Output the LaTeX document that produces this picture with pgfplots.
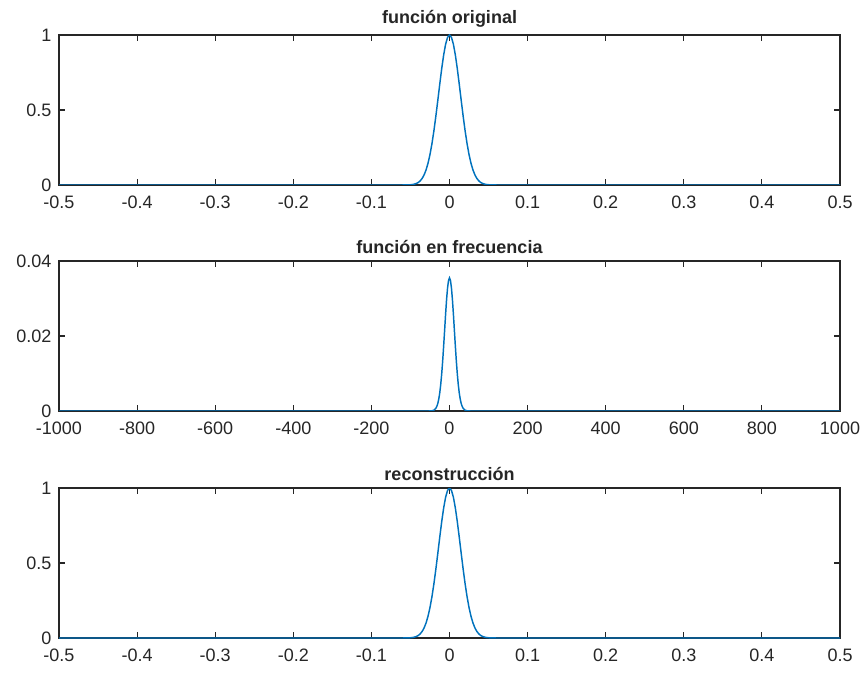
\documentclass[border=0pt]{standalone}
\usepackage{pgfplots}
\pgfplotsset{compat=1.18}
\usepackage{fontspec}
\setmainfont{Liberation Sans}
\definecolor{mblue}{RGB}{0,114,189}
\definecolor{axgray}{RGB}{38,38,38}
\pgfplotstableread{
x y
-0.5 0
-0.065 0
-0.06 0.0001
-0.055 0.00045
-0.05 0.0017
-0.0475 0.00316
-0.045 0.00571
-0.0425 0.00997
-0.04 0.0169
-0.0375 0.0277
-0.035 0.0439
-0.0325 0.0676
-0.03 0.1007
-0.0275 0.1453
-0.025 0.2030
-0.0225 0.2749
-0.02 0.3604
-0.0175 0.4579
-0.015 0.5633
-0.0125 0.6713
-0.01 0.7748
-0.0075 0.8663
-0.005 0.9382
-0.0025 0.9842
0 1
0.0025 0.9842
0.005 0.9382
0.0075 0.8663
0.01 0.7748
0.0125 0.6713
0.015 0.5633
0.0175 0.4579
0.02 0.3604
0.0225 0.2749
0.025 0.2030
0.0275 0.1453
0.03 0.1007
0.0325 0.0676
0.035 0.0439
0.0375 0.0277
0.04 0.0169
0.0425 0.00997
0.045 0.00571
0.0475 0.00316
0.05 0.0017
0.055 0.00045
0.06 0.0001
0.065 0
0.5 0
}\orig
\pgfplotstableread{
x y
-1000 0
-55 0
-50 0.00001
-45 0.000054
-40 0.00021
-35 0.00070
-32.5 0.00121
-30 0.00199
-27.5 0.00316
-25 0.00480
-22.5 0.00703
-20 0.00987
-17.5 0.0133
-15 0.0173
-12.5 0.0215
-10 0.0258
-7.5 0.0297
-5 0.0328
-2.5 0.0348
0 0.0355
2.5 0.0348
5 0.0328
7.5 0.0297
10 0.0258
12.5 0.0215
15 0.0173
17.5 0.0133
20 0.00987
22.5 0.00703
25 0.00480
27.5 0.00316
30 0.00199
32.5 0.00121
35 0.00070
40 0.00021
45 0.000054
50 0.00001
55 0
1000 0
}\freq
\pgfplotsset{
  mystyle/.style={
    scale only axis,
    width=585.75pt, height=112.5pt,
    anchor=south west,
    axis line style={axgray, line width=0.8pt},
    every tick/.style={axgray, line width=0.8pt},
    tick align=inside,
    major tick length=4.5pt,
    tick label style={font=\fontsize{13.5}{16}\selectfont, text=axgray, inner sep=0.5pt},
    title style={font=\bfseries\fontsize{13.5}{16}\selectfont, text=axgray, yshift=-4pt},
    xticklabel style={yshift=-7.5pt},
    yticklabel style={xshift=-5pt},
    scaled y ticks=false,
    scaled x ticks=false,
    ymin=0,
  }
}
\begin{document}
\begin{tikzpicture}
\useasboundingbox (0,0) rectangle (650.25pt,-504.75pt);
\begin{axis}[mystyle, at={(44.25pt,-138.75pt)},
  title={función original},
  xmin=-0.5, xmax=0.5, ymax=1,
  xtick={-0.5,-0.4,-0.3,-0.2,-0.1,0,0.1,0.2,0.3,0.4,0.5},
  xticklabels={-0.5,-0.4,-0.3,-0.2,-0.1,0,0.1,0.2,0.3,0.4,0.5},
  ytick={0,0.5,1}, yticklabels={0,0.5,1}]
\addplot[mblue, line width=1.1pt] table[x=x,y=y] {\orig};
\end{axis}
\begin{axis}[mystyle, at={(44.25pt,-308.25pt)},
  title={función en frecuencia},
  xmin=-1000, xmax=1000, ymax=0.04,
  xtick={-1000,-800,-600,-400,-200,0,200,400,600,800,1000},
  xticklabels={-1000,-800,-600,-400,-200,0,200,400,600,800,1000},
  ytick={0,0.02,0.04}, yticklabels={0,0.02,0.04}]
\addplot[mblue, line width=1.1pt] table[x=x,y=y] {\freq};
\end{axis}
\begin{axis}[mystyle, at={(44.25pt,-478.5pt)},
  title={reconstrucción},
  xmin=-0.5, xmax=0.5, ymax=1,
  xtick={-0.5,-0.4,-0.3,-0.2,-0.1,0,0.1,0.2,0.3,0.4,0.5},
  xticklabels={-0.5,-0.4,-0.3,-0.2,-0.1,0,0.1,0.2,0.3,0.4,0.5},
  ytick={0,0.5,1}, yticklabels={0,0.5,1}]
\addplot[mblue, line width=1.1pt] table[x=x,y=y] {\orig};
\end{axis}
\end{tikzpicture}
\end{document}
